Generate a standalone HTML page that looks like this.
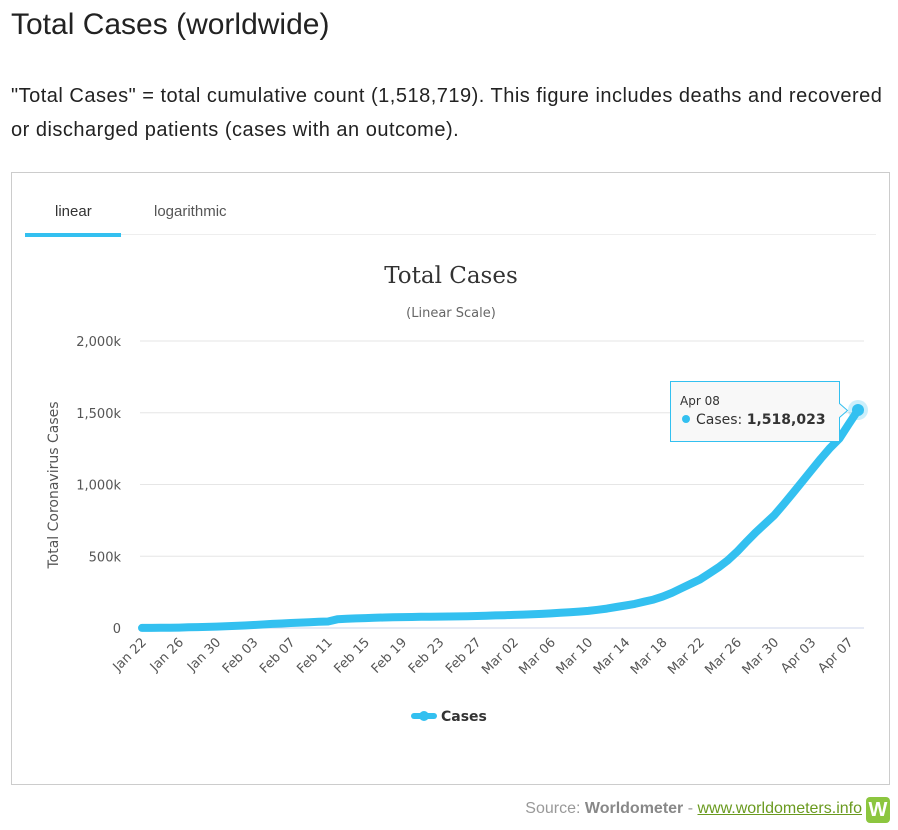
<!DOCTYPE html>
<html><head><meta charset="utf-8"><style>
body{margin:0;width:898px;height:830px;background:#fff;font-family:"Liberation Sans",sans-serif;position:relative;overflow:hidden}
h1{position:absolute;left:11px;top:8px;margin:0;font-weight:normal;font-size:30px;color:#222}
p.d{position:absolute;left:11px;top:79px;margin:0;font-size:20px;line-height:34px;color:#222;width:880px;letter-spacing:0.5px}
.box{position:absolute;left:11px;top:172px;width:879px;height:613px;border:1px solid #ccc;box-sizing:border-box}
.src{position:absolute;right:36px;top:800px;font-size:16px;color:#999}
.src b{color:#888}.src a{color:#6a9a1f;text-decoration:underline}
.w{position:absolute;left:866px;top:797px;width:24px;height:26px;background:#8cc63f;border-radius:4px;color:#fff;font-weight:bold;font-size:20px;text-align:center;line-height:26px}
</style></head><body>
<h1>Total Cases (worldwide)</h1>
<p class="d">"Total Cases" = total cumulative count (1,518,719). This figure includes deaths and recovered<br>or discharged patients (cases with an outcome).</p>
<div class="box"></div>
<svg id="s" width="898" height="830" style="position:absolute;left:0;top:0" font-family="'DejaVu Sans',sans-serif">
<text x="55" y="216" font-size="15" fill="#333" font-family="Liberation Sans">linear</text>
<text x="154" y="216" font-size="15" fill="#555" font-family="Liberation Sans">logarithmic</text>
<rect x="25" y="233" width="96" height="4" fill="#33c0f0"/>
<line x1="121" y1="234.5" x2="876" y2="234.5" stroke="#eee"/>
<text x="451" y="283" font-size="23" fill="#333" text-anchor="middle" font-family="'DejaVu Serif',serif">Total Cases</text>
<text x="451" y="317" font-size="13" fill="#666" text-anchor="middle">(Linear Scale)</text>
<text transform="translate(58,485) rotate(-90)" font-size="14" fill="#555" text-anchor="middle">Total Coronavirus Cases</text>
<g id="g"></g>
</svg>
<div class="src">Source: <b>Worldometer</b> - <a>www.worldometers.info</a></div>
<div class="w">W</div>
<script>
var v=[0.58,0.85,1.3,2,2.8,4.6,6,7.8,9.8,11.9,14.5,17.4,20.6,24.5,28.3,31.5,34.9,37.6,40.6,43.1,45.2,60.4,64.4,67.1,69.2,71.2,73.3,75.2,75.7,76.7,77.8,78.8,79.3,80,80.9,82.3,83.9,85.8,87.6,89.5,91.5,93.5,95.8,98.3,102,106,110,114,119,127,135,146,157,168,183,198,219,245,277,307,338,380,422,472,532,600,666,726,786,862,940,1020,1100,1180,1255,1320,1420,1518];
var x0=142,dx=(858-142)/77,y0=628,sy=287/2000,h='';
['0','500k','1,000k','1,500k','2,000k'].forEach(function(t,i){var y=y0-i*500*sy;
h+='<line x1="140" y1="'+y+'" x2="864" y2="'+y+'" stroke="'+(i?'#e6e6e6':'#ccd6eb')+'"/>';
h+='<text x="121" y="'+(y+5)+'" font-size="13" fill="#555" text-anchor="end">'+t+'</text>';});
var M=['Jan','Feb','Mar','Apr'],D=[31,29,31,30];
for(var i=0;i<78;i+=4){var d=22+i,m=0;while(d>D[m]){d-=D[m];m++;}
var x=x0+i*dx;h+='<text transform="translate('+(x+5)+',643) rotate(-45)" font-size="13" fill="#555" text-anchor="end">'+M[m]+' '+(d<10?'0':'')+d+'</text>';}
var p=v.map(function(a,i){return (x0+i*dx).toFixed(1)+','+(y0-a*sy).toFixed(1)}).join(' ');
h+='<polyline points="'+p+'" fill="none" stroke="#33c0f0" stroke-width="8" stroke-linejoin="round" stroke-linecap="round"/>';
h+='<circle cx="858" cy="410" r="10" fill="#33c0f0" opacity="0.25"/><circle cx="858" cy="410" r="6" fill="#33c0f0"/>';
h+='<path d="M670.5,381.5h169v22l8,7l-8,7v24h-169z" fill="#f8f8f8" stroke="#33c0f0"/>';
h+='<text x="680" y="405" font-size="12" fill="#333">Apr 08</text><circle cx="686" cy="419" r="4" fill="#33c0f0"/>';
h+='<text x="696" y="424" font-size="14" fill="#333">Cases: <tspan font-weight="bold">1,518,023</tspan></text>';
h+='<line x1="414" y1="716" x2="434" y2="716" stroke="#33c0f0" stroke-width="6" stroke-linecap="round"/><circle cx="424" cy="716" r="5" fill="#33c0f0"/>';
h+='<text x="441" y="721" font-size="14" font-weight="bold" fill="#333">Cases</text>';
document.getElementById('g').innerHTML=h;
</script>
</body></html>
